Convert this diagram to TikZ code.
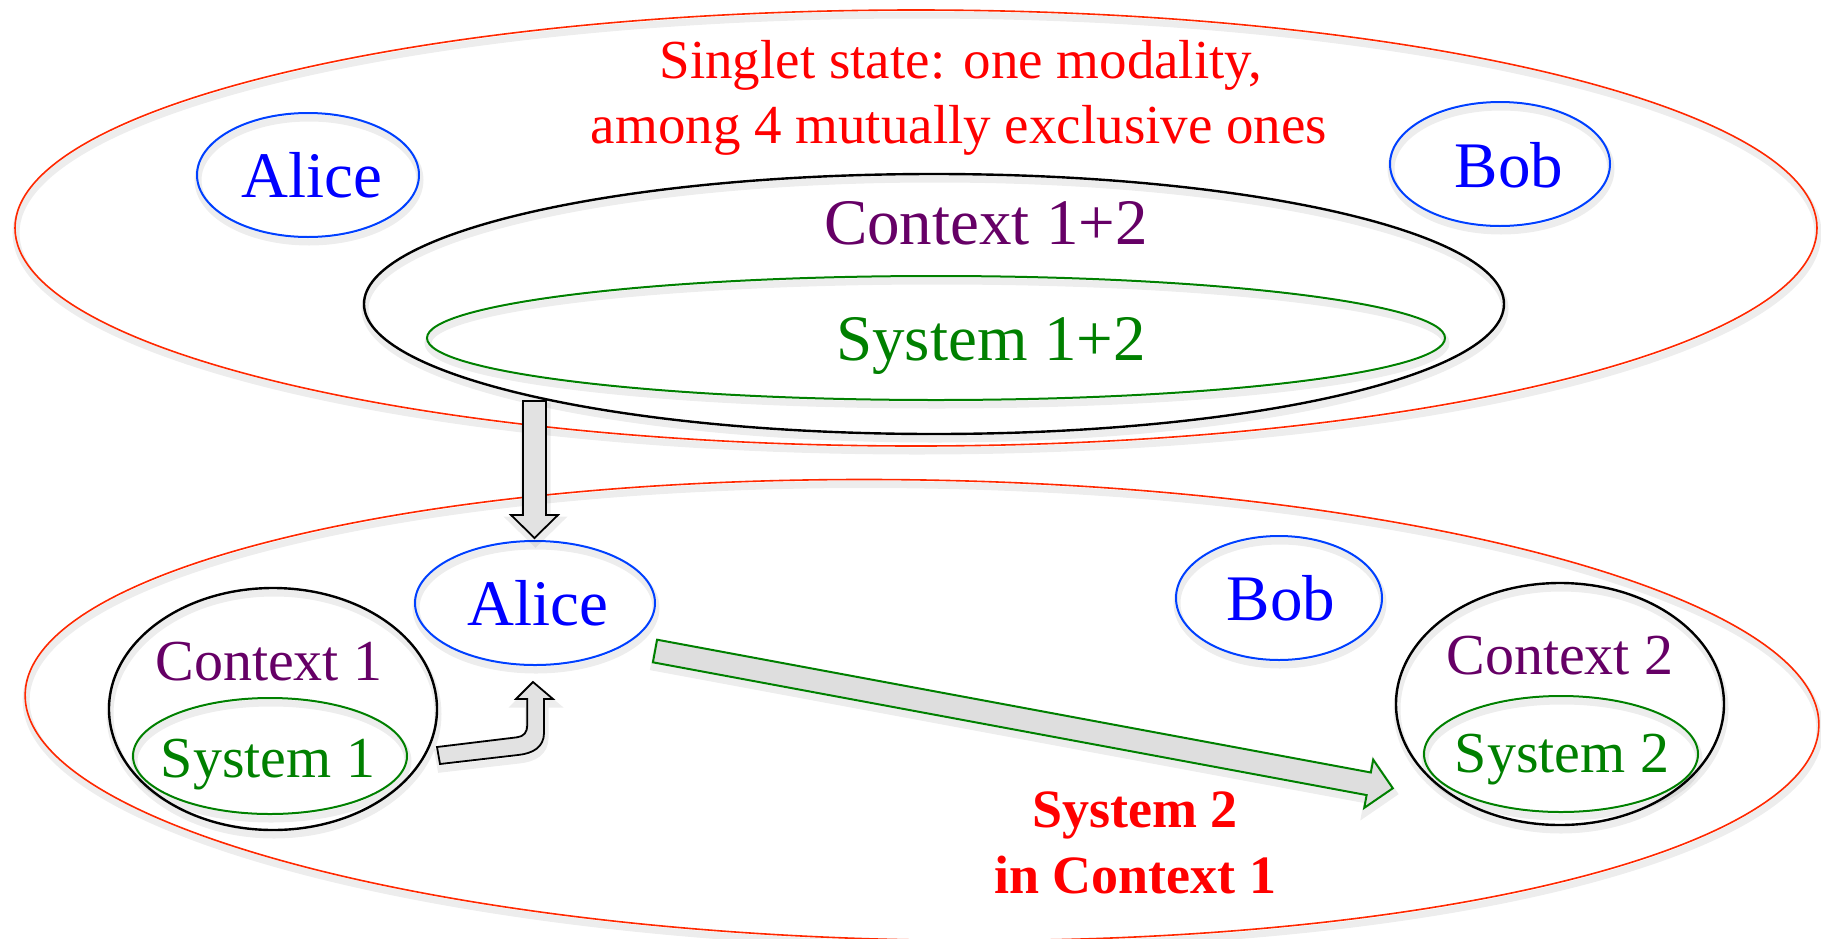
\documentclass[tikz,border=0pt]{standalone}
\usepackage{fontspec}
\setmainfont{Liberation Serif}
\usetikzlibrary{shapes.geometric}
\definecolor{cred}{RGB}{255,40,0}
\definecolor{tred}{RGB}{255,0,0}
\definecolor{eblue}{RGB}{0,64,255}
\definecolor{tblue}{RGB}{0,0,255}
\definecolor{tpurple}{RGB}{102,0,102}
\definecolor{tgreen}{RGB}{0,128,0}
\definecolor{afill}{RGB}{226,226,226}
\definecolor{dfill}{RGB}{222,222,222}
\newcommand\myfs[1]{\fontsize{#1}{#1}\selectfont}
\tikzset{
  softshadow/.style={preaction={draw=black, draw opacity=0.07, line width=7pt,
      transform canvas={shift={(1pt,-5pt)}}}},
  oval/.style={ellipse, inner sep=0pt, outer sep=0pt, softshadow},
  redoval/.style={oval, draw=cred, line width=1.6pt},
  blueoval/.style={oval, draw=eblue, line width=2pt},
  blackoval/.style={oval, draw=black, line width=2.4pt},
  greenoval/.style={oval, draw=tgreen, line width=2pt},
  lab/.style={anchor=base, inner sep=0pt},
  person/.style={lab, text=tblue, font=\myfs{65}},
  ctxbig/.style={lab, text=tpurple, font=\myfs{65}},
  sysbig/.style={lab, text=tgreen, font=\myfs{65}},
  ctxsmall/.style={lab, text=tpurple, font=\myfs{58}},
  syssmall/.style={lab, text=tgreen, font=\myfs{58}},
  redtext/.style={lab, text=tred, font=\myfs{55}},
  redbold/.style={lab, text=tred, font=\myfs{54}\bfseries},
  grayarrow/.style={draw=black, line width=1.8pt, fill=afill, line join=miter, softshadow},
  greenarrow/.style={draw=tgreen, line width=2pt, fill=dfill, line join=miter, softshadow},
}
\begin{document}
\begin{tikzpicture}[x=1pt, y=-1pt]
\useasboundingbox (0,0) rectangle (1821,938);
\fill[white] (0,0) rectangle (1821,938);

% ---------- top state ----------
\node[redoval, minimum width=1802pt, minimum height=436pt] (topstate) at (916,228) {};
\node[redtext] (singletA) at (961,78) {Singlet state: one modality,};
\node[redtext] (singletB) at (959,143) {among 4 mutually exclusive ones};
\node[blueoval, minimum width=222pt, minimum height=124pt] (aliceTop) at (308,175) {};
\node[person] (aliceTopT) at (312,197) {Alice};
\node[blueoval, minimum width=220pt, minimum height=124pt] (bobTop) at (1500,164) {};
\node[person] (bobTopT) at (1509,187) {Bob};
\node[blackoval, minimum width=1140pt, minimum height=260pt] (ctx12) at (934,304) {};
\node[ctxbig] (ctx12T) at (986,244) {Context 1+2};
\node[greenoval, minimum width=1018pt, minimum height=124pt] (sys12) at (936,338) {};
\node[sysbig] (sys12T) at (991,360) {System 1+2};

% ---------- bottom state ----------
\node[redoval, minimum width=1794pt, minimum height=460pt, rotate=-1] (botstate) at (922,710) {};
\node[blueoval, minimum width=240pt, minimum height=124pt] (aliceBot) at (535,603) {};
\node[person] (aliceBotT) at (538,625) {Alice};
\node[blueoval, minimum width=206pt, minimum height=124pt] (bobBot) at (1279,598) {};
\node[person] (bobBotT) at (1281,620) {Bob};
\node[blackoval, minimum width=328pt, minimum height=242pt] (ctx1) at (273,709) {};
\node[ctxsmall] (ctx1T) at (269,680) {Context 1};
\node[greenoval, minimum width=274pt, minimum height=116pt] (sys1) at (270,756) {};
\node[syssmall] (sys1T) at (268,777) {System 1};
\node[blackoval, minimum width=328pt, minimum height=242pt] (ctx2) at (1560,704) {};
\node[ctxsmall] (ctx2T) at (1560,674) {Context 2};
\node[greenoval, minimum width=274pt, minimum height=116pt] (sys2) at (1561,754) {};
\node[syssmall] (sys2T) at (1562,772) {System 2};
\node[redbold] (s2c1a) at (1135,827) {System 2};
\node[redbold] (s2c1b) at (1135,893) {in Context 1};

% ---------- arrows ----------
\coordinate (downS) at (534.5,401);
\draw[grayarrow, shift={(downS)}]
  (-11.5,0) -- (11.5,0) -- (11.5,114) -- (23.5,114) -- (0,137)
  -- (-23.5,114) -- (-11.5,114) -- cycle;

\coordinate (bentS) at (438.5,755.5);
\draw[grayarrow]
  (437,747) -- (517,737.3) .. controls (524,736.5) and (527.3,732) .. (527.3,725)
  -- (527.3,699) -- (516,699) -- (533,682) -- (553,699) -- (544,699) -- (544,733)
  .. controls (544,747) and (533,753.5) .. (518,755) -- (440,764) -- cycle;

\coordinate (diagS) at (655,651);
\begin{scope}[shift={(diagS)}, rotate=-10.54]
\draw[greenarrow]
  (0,-11.5) -- (726,-11.5) -- (726,-24.5) -- (750.5,0) -- (726,24.5)
  -- (726,11.5) -- (0,11.5) -- cycle;
\end{scope}
\end{tikzpicture}
\end{document}
